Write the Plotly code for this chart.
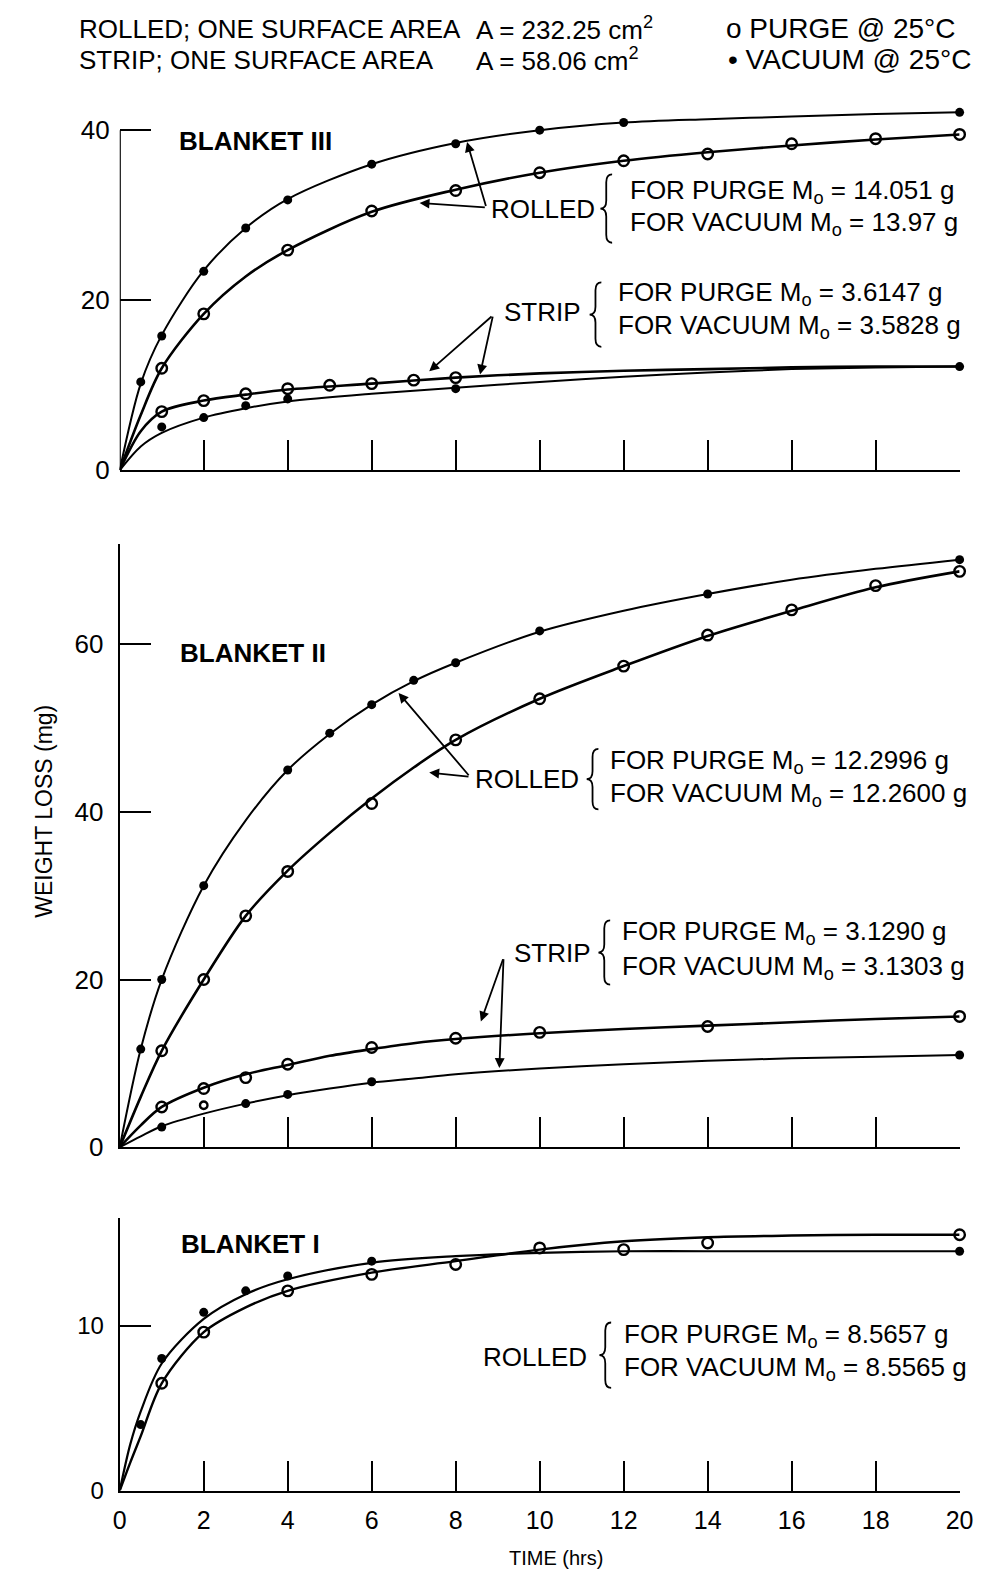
import plotly.graph_objects as go

W, H = 994, 1595
FONT = "Liberation Sans, Arial, Helvetica, sans-serif"

# ---------------- Blanket III (top panel) ----------------
b3_rv_t = [0.5, 1, 2, 3, 4, 6, 8, 10, 12, 20]
b3_rv_y = [10.4, 15.8, 23.4, 28.5, 31.8, 36.0, 38.4, 40.0, 40.9, 42.1]
b3_rp_t = [1, 2, 4, 6, 8, 10, 12, 14, 16, 18, 20]
b3_rp_y = [12.0, 18.4, 25.9, 30.5, 32.9, 35.0, 36.4, 37.2, 38.4, 39.0, 39.5]
b3_sp_t = [1, 2, 3, 4, 5, 6, 7, 8]
b3_sp_y = [6.9, 8.2, 9.0, 9.6, 10.0, 10.2, 10.6, 10.9]
b3_sv_t = [1, 2, 3, 4, 8, 20]
b3_sv_y = [5.1, 6.2, 7.6, 8.4, 9.6, 12.2]

b3_curve_t = [0, 0.5, 1, 2, 3, 4, 6, 8, 10, 12, 14, 16, 18, 20]
b3_rv_curve = [0, 10.2, 15.9, 23.5, 28.5, 31.9, 36.0, 38.5, 40.0, 40.9, 41.3, 41.6, 41.9, 42.1]
b3_rp_curve = [0, 6.5, 12.0, 18.4, 22.8, 25.9, 30.4, 33.0, 35.0, 36.4, 37.4, 38.2, 38.9, 39.5]
b3_sp_curve = [0, 4.6, 6.9, 8.2, 8.9, 9.5, 10.2, 10.9, 11.4, 11.7, 11.9, 12.1, 12.2, 12.2]
b3_sv_curve = [0, 2.8, 4.4, 6.2, 7.3, 8.1, 9.0, 9.7, 10.4, 11.0, 11.5, 11.9, 12.1, 12.2]

# ---------------- Blanket II (middle panel) ----------------
b2_rv_t = [0.5, 1, 2, 4, 5, 6, 7, 8, 10, 14, 20]
b2_rv_y = [11.7, 20.0, 31.2, 45.0, 49.4, 52.8, 55.7, 57.8, 61.6, 66.0, 70.1]
b2_rp_t = [1, 2, 3, 4, 6, 8, 10, 12, 14, 16, 18, 20]
b2_rp_y = [11.5, 20.0, 27.6, 32.9, 41.0, 48.6, 53.5, 57.4, 61.1, 64.1, 67.0, 68.7]
b2_sp_t = [1, 2, 3, 4, 6, 8, 10, 14, 20]
b2_sp_y = [4.8, 7.0, 8.3, 9.9, 11.9, 13.0, 13.7, 14.4, 15.6]
b2_odd_t = [2]
b2_odd_y = [5.0]
b2_sv_t = [1, 3, 4, 6, 20]
b2_sv_y = [2.4, 5.2, 6.3, 7.8, 11.0]

b2_curve_t = [0, 0.5, 1, 2, 3, 4, 5, 6, 7, 8, 10, 12, 14, 16, 18, 20]
b2_rv_curve = [0, 11.7, 20.0, 31.2, 39.0, 45.0, 49.3, 52.8, 55.6, 57.8, 61.5, 64.0, 66.0, 67.7, 69.0, 70.1]
b2_rp_curve = [0, 6.0, 11.5, 20.0, 27.6, 33.0, 37.5, 41.6, 45.3, 48.6, 53.5, 57.4, 61.0, 64.0, 66.8, 68.7]
b2_sp_curve = [0, 2.6, 4.8, 7.1, 8.7, 9.8, 10.9, 11.7, 12.4, 12.9, 13.6, 14.1, 14.5, 14.9, 15.3, 15.6]
b2_sv_curve = [0, 1.3, 2.5, 4.0, 5.2, 6.2, 7.0, 7.7, 8.2, 8.7, 9.4, 9.9, 10.3, 10.6, 10.8, 11.0]

# ---------------- Blanket I (bottom panel) ----------------
b1_v_t = [0.5, 1, 2, 3, 4, 6, 20]
b1_v_y = [4.0, 8.0, 10.8, 12.1, 13.0, 13.9, 14.5]
b1_p_t = [1, 2, 4, 6, 8, 10, 12, 14, 20]
b1_p_y = [6.5, 9.6, 12.1, 13.1, 13.7, 14.7, 14.6, 15.0, 15.5]

b1_curve_t = [0, 0.25, 0.5, 1, 2, 3, 4, 6, 8, 10, 12, 14, 16, 18, 20]
b1_v_curve = [0, 2.8, 4.8, 7.7, 10.4, 11.9, 12.8, 13.8, 14.2, 14.4, 14.5, 14.5, 14.5, 14.5, 14.5]
b1_p_curve = [0, 1.7, 3.3, 6.5, 9.6, 11.1, 12.1, 13.2, 13.9, 14.6, 15.1, 15.35, 15.45, 15.5, 15.5]

x_ticks = [0, 2, 4, 6, 8, 10, 12, 14, 16, 18, 20]

# ---------------- figure ----------------
fig = go.Figure()


def curve(t, y, xa, ya, width):
    fig.add_trace(go.Scatter(x=t, y=y, mode="lines", xaxis=xa, yaxis=ya,
                             line=dict(color="black", width=width, shape="spline", smoothing=0.9),
                             hoverinfo="skip", showlegend=False))


def pts(t, y, xa, ya, filled, size=None):
    if filled:
        m = dict(symbol="circle", size=size or 9, color="black")
    else:
        m = dict(symbol="circle-open", size=size or 10.5, color="black", line=dict(width=2.4, color="black"))
    fig.add_trace(go.Scatter(x=t, y=y, mode="markers", xaxis=xa, yaxis=ya, marker=m,
                             cliponaxis=False, showlegend=False))


# top panel -> x3/y3
curve(b3_curve_t, b3_rv_curve, "x3", "y3", 2.0)
curve(b3_curve_t, b3_rp_curve, "x3", "y3", 2.6)
curve(b3_curve_t, b3_sp_curve, "x3", "y3", 2.6)
curve(b3_curve_t, b3_sv_curve, "x3", "y3", 2.0)
pts(b3_rv_t, b3_rv_y, "x3", "y3", True)
pts(b3_rp_t, b3_rp_y, "x3", "y3", False)
pts(b3_sp_t, b3_sp_y, "x3", "y3", False)
pts(b3_sv_t, b3_sv_y, "x3", "y3", True)

# middle panel -> x2/y2
curve(b2_curve_t, b2_rv_curve, "x2", "y2", 2.0)
curve(b2_curve_t, b2_rp_curve, "x2", "y2", 2.6)
curve(b2_curve_t, b2_sp_curve, "x2", "y2", 2.6)
curve(b2_curve_t, b2_sv_curve, "x2", "y2", 2.0)
pts(b2_rv_t, b2_rv_y, "x2", "y2", True)
pts(b2_rp_t, b2_rp_y, "x2", "y2", False)
pts(b2_sp_t, b2_sp_y, "x2", "y2", False)
pts(b2_odd_t, b2_odd_y, "x2", "y2", False, size=7.5)
pts(b2_sv_t, b2_sv_y, "x2", "y2", True)

# bottom panel -> x/y
curve(b1_curve_t, b1_v_curve, "x", "y", 2.2)
curve(b1_curve_t, b1_p_curve, "x", "y", 2.4)
pts(b1_v_t, b1_v_y, "x", "y", True)
pts(b1_p_t, b1_p_y, "x", "y", False)


def fx(px):
    return px / W


def fy(py):
    return 1 - py / H


XDOM = [fx(107), fx(965)]
P1 = [fy(466.7), fy(93.3)]
P2 = [fy(1150), fy(540.8)]
P3 = [fy(1496.7), fy(1221.7)]

xcommon = dict(range=[0, 20], showgrid=False, zeroline=False, showline=True, linecolor="black",
               linewidth=2.2, ticks="inside", ticklen=30, tickwidth=2.2, tickcolor="black",
               tickvals=x_ticks, domain=XDOM)
ycommon = dict(showgrid=False, zeroline=False, linecolor="black", linewidth=2.2,
               ticks="inside", ticklen=31, tickwidth=2.2, tickcolor="black",
               ticklabelstandoff=9)

fig.update_layout(
    width=W, height=H, margin=dict(l=0, r=0, t=0, b=0),
    paper_bgcolor="white", plot_bgcolor="white", showlegend=False,
    font=dict(family=FONT, color="black"),
    xaxis=dict(**xcommon, anchor="y", showticklabels=True, ticklabelstandoff=6,
               tickfont=dict(family=FONT, size=25, color="black")),
    xaxis2=dict(**xcommon, anchor="y2", showticklabels=False, matches="x"),
    xaxis3=dict(**xcommon, anchor="y3", showticklabels=False, matches="x"),
    yaxis=dict(**ycommon, domain=P3, range=[0, 16.5], tickvals=[0, 10], showline=True, anchor="x",
               tickfont=dict(family=FONT, size=24, color="black")),
    yaxis2=dict(**ycommon, domain=P2, range=[0, 72], tickvals=[0, 20, 40, 60], showline=True, anchor="x2",
                tickfont=dict(family=FONT, size=26, color="black")),
    yaxis3=dict(**ycommon, domain=P1, range=[0, 43.5], tickvals=[0, 20, 40], showline=False, anchor="x3",
                tickfont=dict(family=FONT, size=26, color="black")),
)

# y-axis line of the top panel only reaches the 40 tick
fig.add_shape(type="line", xref="x3", yref="y3", x0=0, x1=0, y0=0, y1=40,
              line=dict(color="black", width=2.2))

ann = []


def txt(s, px, py, size=26, bold=False, anchor="left"):
    if bold:
        s = "<b>" + s + "</b>"
    ann.append(dict(text=s, x=fx(px), y=fy(py), xref="paper", yref="paper", xanchor=anchor,
                    yanchor="middle", showarrow=False, font=dict(family=FONT, size=size, color="black")))


def arrow(hx, hy, tx, ty, xa, ya):
    ann.append(dict(text="", x=hx, y=hy, ax=tx, ay=ty, xref=xa, yref=ya, axref=xa, ayref=ya,
                    showarrow=True, arrowhead=2, arrowsize=1.1, arrowwidth=1.8, arrowcolor="black",
                    standoff=0, startstandoff=0))


def brace(xl, xr, yt, yb):
    xm = (xl + xr) / 2
    ym = (yt + yb) / 2
    r = min(8, (yb - yt) / 6)
    P = lambda a, b: f"{fx(a):.5f},{fy(b):.5f}"
    path = (f"M {P(xr, yt)} Q {P(xm, yt)} {P(xm, yt + r)} L {P(xm, ym - r)} "
            f"Q {P(xm, ym)} {P(xl, ym)} Q {P(xm, ym)} {P(xm, ym + r)} L {P(xm, yb - r)} "
            f"Q {P(xm, yb)} {P(xr, yb)}")
    fig.add_shape(type="path", xref="paper", yref="paper", path=path,
                  line=dict(color="black", width=1.8))


# header
txt("ROLLED; ONE SURFACE AREA", 63, 21, size=26)
txt("A = 232.25 cm<sup>2</sup>", 469, 21, size=26)
txt("STRIP; ONE SURFACE AREA", 63, 52, size=26)
txt("A = 58.06 cm<sup>2</sup>", 469, 52, size=26)
txt("o PURGE @ 25°C", 724, 21, size=28)
txt("• VACUUM @ 25°C", 726, 52, size=28)

# top panel texts
txt("BLANKET III", 166, 134, size=26, bold=True)
txt("ROLLED", 484, 203, size=26)
brace(598, 610, 168, 237)
txt("FOR PURGE M<sub>o</sub> = 14.051 g", 626, 185, size=26)
txt("FOR VACUUM M<sub>o</sub> = 13.97 g", 626, 218, size=26)
txt("STRIP", 498, 307, size=26)
brace(587, 599, 277, 342)
txt("FOR PURGE M<sub>o</sub> = 3.6147 g", 614, 288, size=26)
txt("FOR VACUUM M<sub>o</sub> = 3.5828 g", 614, 322, size=26)
arrow(7.14, 31.45, 8.73, 30.9, "x3", "y3")
arrow(8.27, 38.6, 8.73, 30.9, "x3", "y3")
arrow(7.37, 11.65, 8.89, 18.25, "x3", "y3")
arrow(8.58, 11.26, 8.89, 18.25, "x3", "y3")

# middle panel texts
txt("BLANKET II", 167, 651, size=26, bold=True)
txt("ROLLED", 468, 778, size=26)
brace(584, 596, 748, 809)
txt("FOR PURGE M<sub>o</sub> = 12.2996 g", 606, 761, size=26)
txt("FOR VACUUM M<sub>o</sub> = 12.2600 g", 606, 794, size=26)
txt("STRIP", 508, 954, size=26)
brace(596, 608, 921, 986)
txt("FOR PURGE M<sub>o</sub> = 3.1290 g", 618, 933, size=26)
txt("FOR VACUUM M<sub>o</sub> = 3.1303 g", 618, 969, size=26)
arrow(7.37, 44.7, 8.34, 44.2, "x2", "y2")
arrow(6.64, 54.2, 8.34, 44.2, "x2", "y2")
arrow(8.6, 15.0, 9.14, 22.6, "x2", "y2")
arrow(9.04, 9.45, 9.14, 22.6, "x2", "y2")

# bottom panel texts
txt("BLANKET I", 168, 1248, size=26, bold=True)
txt("ROLLED", 476, 1362, size=26)
brace(597, 609, 1327, 1393)
txt("FOR PURGE M<sub>o</sub> = 8.5657 g", 620, 1340, size=26)
txt("FOR VACUUM M<sub>o</sub> = 8.5565 g", 620, 1373, size=26)

# axis titles
txt("TIME (hrs)", 553, 1565, size=20, anchor="center")
ann.append(dict(text="WEIGHT LOSS (mg)", x=fx(30), y=fy(811), xref="paper", yref="paper",
                xanchor="center", yanchor="middle", textangle=-90, showarrow=False,
                font=dict(family=FONT, size=23, color="black")))

fig.update_layout(annotations=ann)
fig.write_html("out.html")
